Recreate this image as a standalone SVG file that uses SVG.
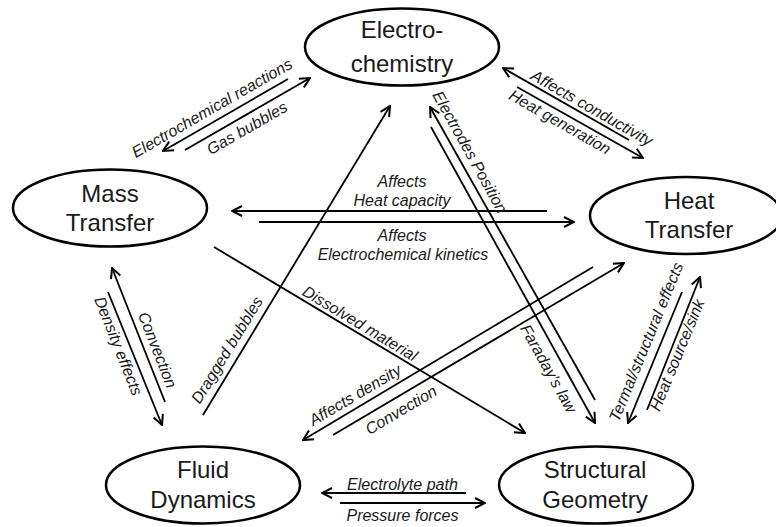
<svg xmlns="http://www.w3.org/2000/svg" width="776" height="527" viewBox="0 0 776 527">
<defs>
<style>
.node ellipse{fill:#fff;stroke:#000;stroke-width:2.5}
.node text{font-family:"Liberation Sans",Arial,sans-serif;font-size:24px;fill:#1a1a1a;text-anchor:middle}
.lbl{font-family:"Liberation Sans",Arial,sans-serif;font-size:16px;font-style:italic;fill:#1a1a1a;text-anchor:middle}
#connectors line{stroke:#000;stroke-width:1.8;fill:none;marker-end:url(#arr)}
</style>
<marker id="arr" viewBox="0 0 12 12" refX="11" refY="6" markerWidth="12" markerHeight="12" markerUnits="userSpaceOnUse" orient="auto">
<path d="M1,1 L11,6 L1,11" fill="none" stroke="#000" stroke-width="2"/>
</marker>
</defs>
<rect width="776" height="527" fill="#fff"/>
<g id="connectors">
<line x1="288" y1="79" x2="163" y2="151"/>
<line x1="185" y1="150" x2="310" y2="78"/>
<line x1="629" y1="140" x2="503" y2="68"/>
<line x1="517" y1="87" x2="643" y2="158"/>
<line x1="547" y1="211" x2="232" y2="211"/>
<line x1="259" y1="222" x2="574" y2="222"/>
<line x1="203" y1="415" x2="390" y2="106"/>
<line x1="595" y1="400" x2="430" y2="107"/>
<line x1="431" y1="127" x2="595" y2="423"/>
<line x1="214" y1="247" x2="525" y2="433"/>
<line x1="593" y1="267" x2="303" y2="440"/>
<line x1="333" y1="435" x2="624" y2="263"/>
<line x1="165" y1="402" x2="112" y2="268"/>
<line x1="108" y1="292" x2="162" y2="425"/>
<line x1="682" y1="292" x2="628" y2="423"/>
<line x1="647" y1="410" x2="700" y2="277"/>
<line x1="466" y1="493" x2="322" y2="493"/>
<line x1="340" y1="503" x2="485" y2="503"/>
</g>
<g id="labels">
<text class="lbl" transform="translate(212,108) rotate(-30)" y="5.5">Electrochemical reactions</text>
<text class="lbl" transform="translate(247,128) rotate(-30)" y="5.5">Gas bubbles</text>
<text class="lbl" transform="translate(592,108) rotate(29.7)" y="5.5">Affects conductivity</text>
<text class="lbl" transform="translate(560,122) rotate(29.7)" y="5.5">Heat generation</text>
<text class="lbl" x="402" y="187">Affects</text>
<text class="lbl" x="402" y="206">Heat capacity</text>
<text class="lbl" x="402" y="241">Affects</text>
<text class="lbl" x="403" y="260">Electrochemical kinetics</text>
<text class="lbl" transform="translate(227,350) rotate(-58.5)" y="5.5">Dragged bubbles</text>
<text class="lbl" transform="translate(470,152) rotate(61)" y="5.5">Electrodes Position</text>
<text class="lbl" transform="translate(548.5,368.5) rotate(61)" y="5.5">Faraday’s law</text>
<text class="lbl" transform="translate(360,323.5) rotate(31)" y="5.5">Dissolved material</text>
<text class="lbl" transform="translate(355,395) rotate(-30.8)" y="5.5">Affects density</text>
<text class="lbl" transform="translate(401,410) rotate(-30.8)" y="5.5">Convection</text>
<text class="lbl" transform="translate(157.5,350) rotate(68.4)" y="5.5">Convection</text>
<text class="lbl" transform="translate(118.5,346) rotate(68.4)" y="5.5">Density effects</text>
<text class="lbl" transform="translate(646,342) rotate(-67.6)" y="5.5">Termal/structural effects</text>
<text class="lbl" transform="translate(677,355) rotate(-67.6)" y="5.5">Heat source/sink</text>
<text class="lbl" x="402.5" y="490" textLength="111" lengthAdjust="spacingAndGlyphs">Electrolyte path</text>
<text class="lbl" x="402.5" y="521">Pressure forces</text>
</g>
<g id="electrochemistry" class="node">
<ellipse cx="402" cy="47" rx="97" ry="38.5"/>
<text x="402" y="38">Electro-</text>
<text x="402" y="72">chemistry</text>
</g>
<g id="mass-transfer" class="node">
<ellipse cx="110" cy="208" rx="97" ry="38.5"/>
<text x="110" y="202">Mass</text>
<text x="110" y="231">Transfer</text>
</g>
<g id="heat-transfer" class="node">
<ellipse cx="686" cy="215.5" rx="96" ry="38.5"/>
<text x="689" y="209">Heat</text>
<text x="689" y="238">Transfer</text>
</g>
<g id="fluid-dynamics" class="node">
<ellipse cx="203" cy="485" rx="97" ry="38.5"/>
<text x="203" y="478">Fluid</text>
<text x="203" y="508">Dynamics</text>
</g>
<g id="structural-geometry" class="node">
<ellipse cx="596" cy="485" rx="97" ry="38.5"/>
<text x="595" y="478">Structural</text>
<text x="595" y="508">Geometry</text>
</g>
</svg>
